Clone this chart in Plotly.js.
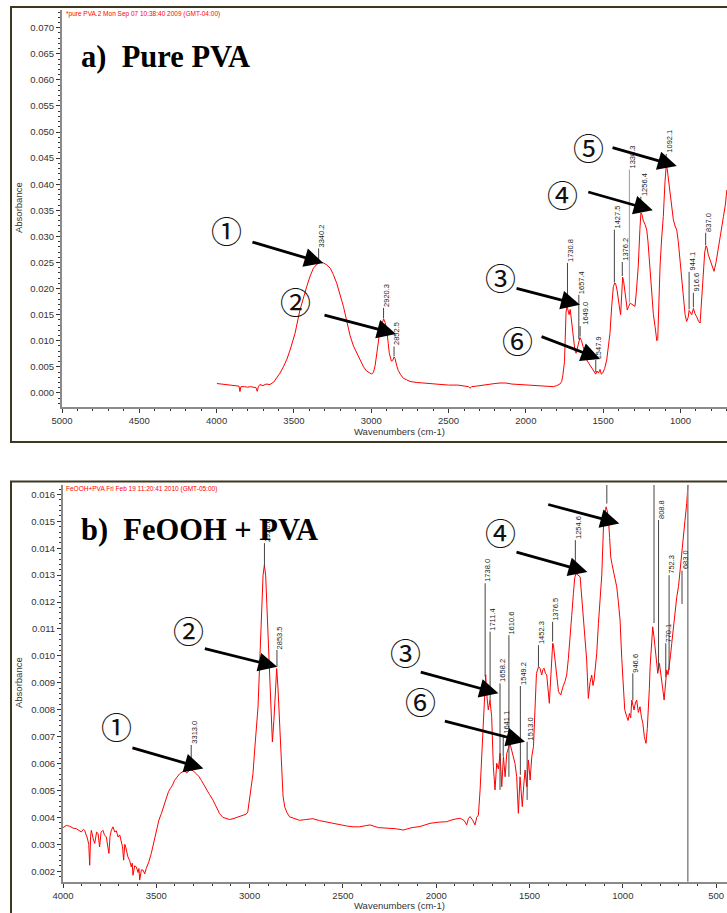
<!DOCTYPE html>
<html>
<head>
<meta charset="utf-8">
<script src="https://cdn.plot.ly/plotly-3.0.1.min.js"></script>
<style>html,body{margin:0;padding:0;background:#fff;}#chart{width:727px;height:913px;}</style>
</head>
<body>
<div id="chart"></div>
<script>
// ---------- Panel a) Pure PVA spectrum ----------
const specA_wn = [3998,3960,3920,3894,3870,3855,3849,3843,3820,3800,3780,3763,3745,3737,3730,3720,3700,3680,3655,3630,3611,3590,3568,3545,3525,3493,3461,3440,3417,3395,3374,3350,3330,3310,3290,3265,3245,3223,3200,3180,3160,3137,3115,3094,3073,3050,3030,3010,2997,2985,2975,2964,2950,2943,2930,2920,2910,2900,2890,2883,2870,2862,2852,2846,2835,2825,2810,2792,2770,2749,2706,2660,2620,2560,2500,2440,2390,2370,2361,2350,2320,2280,2240,2200,2167,2130,2090,2040,1994,1950,1900,1860,1822,1800,1780,1768,1760,1750,1745,1740,1733,1726,1720,1713,1705,1698,1690,1683,1675,1668,1658,1650,1640,1628,1615,1606,1590,1575,1563,1555,1548,1540,1530,1520,1512,1503,1490,1477,1466,1456,1445,1434,1425,1419,1410,1402,1395,1387,1380,1374,1368,1360,1352,1344,1335,1325,1315,1305,1294,1285,1273,1262,1256,1250,1240,1228,1218,1210,1200,1186,1175,1164,1153,1147,1140,1132,1122,1111,1100,1092,1086,1078,1068,1057,1046,1035,1024,1014,1003,992,981,970,960,950,944,938,927,916,906,895,884,873,862,852,843,835,828,820,809,796,783,770,755,740,722,710,700];
const specA_abs = [0.0018,0.0017,0.0016,0.0015,0.0014,0.0013,0.00025,0.0012,0.0012,0.0011,0.0012,0.0011,0.0010,0.0003,0.0012,0.0016,0.0014,0.0017,0.0016,0.0021,0.0028,0.0038,0.0050,0.0065,0.0082,0.0114,0.0159,0.0183,0.0204,0.0224,0.0239,0.0247,0.0250,0.0249,0.0246,0.0239,0.0227,0.0210,0.0188,0.0166,0.0140,0.0110,0.0090,0.0076,0.0062,0.0050,0.0042,0.0038,0.0036,0.0040,0.0052,0.0076,0.0105,0.0121,0.0132,0.0142,0.0135,0.0121,0.0095,0.0076,0.0061,0.0062,0.0069,0.0066,0.0052,0.0043,0.0035,0.0028,0.0025,0.0022,0.0020,0.0019,0.0017,0.0016,0.0015,0.0015,0.0013,0.0012,0.0009,0.0012,0.0013,0.0015,0.0017,0.0018,0.0019,0.0019,0.0017,0.0016,0.0015,0.0014,0.0013,0.0013,0.0012,0.0014,0.0017,0.0022,0.0035,0.0060,0.0100,0.0155,0.0166,0.0155,0.0150,0.0160,0.0140,0.0115,0.0095,0.0082,0.0076,0.0085,0.0100,0.0106,0.0100,0.0089,0.0073,0.0063,0.0055,0.0048,0.0044,0.0039,0.0036,0.0042,0.0038,0.0045,0.0036,0.0038,0.0047,0.0063,0.0085,0.0114,0.0165,0.0204,0.0211,0.0209,0.0197,0.0184,0.0165,0.0150,0.0180,0.0222,0.0215,0.0192,0.0176,0.0159,0.0166,0.0172,0.0170,0.0168,0.0166,0.0195,0.0243,0.0315,0.0345,0.0343,0.0330,0.0322,0.0312,0.0290,0.0245,0.0191,0.0150,0.0127,0.0100,0.0102,0.0170,0.0243,0.0295,0.0338,0.0405,0.0436,0.0430,0.0410,0.0396,0.0360,0.0332,0.0320,0.0312,0.0290,0.0255,0.0215,0.0178,0.0150,0.0137,0.0145,0.0158,0.0155,0.0150,0.0162,0.0152,0.0146,0.0138,0.0134,0.0185,0.0243,0.0270,0.0282,0.0278,0.0265,0.0255,0.0245,0.0233,0.0250,0.0281,0.0305,0.0338,0.0360,0.0389];

// peak labels panel a)
const labA_text = ['3340.2','2920.3','2852.5','1730.8','1657.4','1649.0','1547.9','1427.5','1376.2','1330.3','1256.4','1092.1','944.1','916.6','837.0'];
const labA_wn   = [3340.2,2920.3,2852.5,1730.8,1657.4,1649.0,1547.9,1427.5,1376.2,1330.3,1256.4,1092.1,944.1,916.6,837.0];
const labA_lo   = [0.0251,0.0143,0.0070,0.0168,0.0103,0.0108,0.0040,0.0212,0.0224,0.0173,0.0347,0.0438,0.0160,0.0164,0.0283];
const labA_hi   = [0.0277,0.0163,0.0089,0.0249,0.0188,0.0128,0.0063,0.0313,0.0251,0.0428,0.0376,0.0458,0.0232,0.0192,0.0307];

// circled numbers and arrows panel a)
const circA_text = ['①','②','③','⑥','④','⑤'];
const circA_wn   = [3933,3487,2167,2057,1766,1598];
const circA_abs  = [0.0313,0.0178,0.0223,0.0102,0.0382,0.0472];
const arrA_tailWn  = [3778,3312,2070,1908,1606,1449];
const arrA_tailAbs = [0.0290,0.0150,0.0201,0.0109,0.0386,0.0471];
const arrA_tipWn   = [3310,2840,1650,1520,1179,1024];
const arrA_tipAbs  = [0.0249,0.0113,0.0169,0.0065,0.0350,0.0435];

// ---------- Panel b) FeOOH + PVA spectrum ----------
const specB_wn = [4000,3982,3964,3946,3929,3915,3902,3890,3884,3876,3871,3862,3857,3852,3848,3838,3830,3820,3812,3804,3796,3786,3778,3768,3760,3754,3748,3741,3732,3723,3714,3705,3696,3688,3681,3675,3669,3664,3658,3652,3643,3634,3629,3625,3616,3607,3598,3593,3589,3580,3571,3562,3554,3540,3527,3514,3500,3486,3473,3460,3446,3435,3425,3413,3402,3390,3375,3362,3348,3338,3330,3320,3312,3300,3286,3272,3259,3245,3232,3215,3196,3180,3161,3143,3125,3107,3089,3071,3053,3035,3018,3010,3003,2992,2982,2973,2964,2955,2944,2935,2928,2921,2914,2908,2900,2890,2884,2878,2870,2862,2855,2848,2839,2830,2821,2812,2800,2786,2760,2732,2700,2661,2625,2589,2550,2518,2480,2446,2411,2380,2355,2310,2265,2220,2176,2130,2087,2033,1990,1944,1910,1872,1850,1837,1828,1819,1805,1792,1783,1774,1765,1756,1747,1739,1735,1730,1721,1712,1703,1694,1685,1676,1667,1658,1649,1640,1631,1622,1613,1605,1596,1587,1578,1569,1560,1551,1545,1539,1531,1524,1515,1506,1497,1488,1479,1470,1463,1452,1444,1435,1428,1422,1415,1408,1400,1394,1388,1382,1376,1372,1365,1358,1350,1345,1333,1326,1319,1310,1301,1292,1283,1274,1265,1258,1251,1240,1229,1220,1211,1202,1194,1185,1176,1167,1160,1154,1147,1140,1131,1122,1113,1104,1097,1090,1084,1078,1071,1065,1058,1051,1042,1033,1024,1015,1006,997,990,979,972,965,958,952,946,940,933,926,917,908,900,893,885,876,869,863,858,854,847,840,833,827,822,813,804,797,791,785,779,772,765,758,751,745,738,729,720,711,702,694,685,676,667,658,650];
const specB_abs = [0.00362,0.00370,0.00367,0.00360,0.00358,0.00350,0.00346,0.00356,0.00352,0.00335,0.00327,0.00300,0.00222,0.00330,0.00352,0.00320,0.00303,0.00345,0.00340,0.00290,0.00345,0.00352,0.00335,0.00327,0.00300,0.00266,0.00330,0.00352,0.00365,0.00346,0.00350,0.00327,0.00335,0.00315,0.00290,0.00241,0.00300,0.00290,0.00270,0.00253,0.00240,0.00216,0.00230,0.00185,0.00220,0.00216,0.00195,0.00210,0.00167,0.00205,0.00204,0.00190,0.00210,0.00235,0.00266,0.00305,0.00352,0.00390,0.00414,0.00445,0.00476,0.00495,0.00507,0.00520,0.00538,0.00550,0.00562,0.00568,0.00575,0.00565,0.00569,0.00580,0.00577,0.00572,0.00562,0.00552,0.00538,0.00520,0.00501,0.00485,0.00464,0.00440,0.00414,0.00400,0.00395,0.00392,0.00395,0.00400,0.00404,0.00408,0.00412,0.00420,0.00451,0.00500,0.00562,0.00650,0.00748,0.00810,0.01010,0.01195,0.01300,0.01337,0.01300,0.01195,0.01046,0.00850,0.00720,0.00680,0.00760,0.00900,0.00953,0.00880,0.00748,0.00562,0.00480,0.00439,0.00418,0.00402,0.00395,0.00389,0.00392,0.00395,0.00388,0.00383,0.00378,0.00371,0.00368,0.00365,0.00365,0.00369,0.00372,0.00362,0.00360,0.00358,0.00353,0.00362,0.00366,0.00378,0.00382,0.00384,0.00392,0.00397,0.00388,0.00372,0.00395,0.00403,0.00390,0.00372,0.00400,0.00409,0.00502,0.00620,0.00750,0.00848,0.00930,0.00861,0.00799,0.00836,0.00774,0.00588,0.00502,0.00601,0.00580,0.00638,0.00514,0.00626,0.00551,0.00638,0.00663,0.00675,0.00650,0.00626,0.00600,0.00551,0.00415,0.00551,0.00500,0.00440,0.00520,0.00576,0.00514,0.00613,0.00539,0.00626,0.00663,0.00799,0.00935,0.00960,0.00954,0.00929,0.00950,0.00954,0.00935,0.00929,0.00870,0.00824,0.00900,0.00960,0.01047,0.01040,0.01000,0.00960,0.00900,0.00867,0.00855,0.00875,0.00890,0.00905,0.00929,0.00990,0.01059,0.01150,0.01232,0.01290,0.01306,0.01300,0.01294,0.01215,0.01133,0.01060,0.00985,0.00842,0.00900,0.00929,0.00890,0.00911,0.00950,0.01010,0.01120,0.01232,0.01300,0.01479,0.01520,0.01554,0.01540,0.01517,0.01440,0.01368,0.01340,0.01319,0.01290,0.01257,0.01200,0.01133,0.00990,0.00900,0.00800,0.00774,0.00760,0.00786,0.00770,0.00836,0.00820,0.00799,0.00825,0.00836,0.00790,0.00811,0.00770,0.00750,0.00700,0.00675,0.00730,0.00799,0.00880,0.00960,0.01060,0.01108,0.01070,0.01020,0.00985,0.00935,0.00972,0.00940,0.00910,0.00870,0.00836,0.00900,0.00948,0.00930,0.00960,0.01000,0.01047,0.01110,0.01170,0.01220,0.01257,0.01320,0.01381,0.01450,0.01504,0.01566,0.01645];

// peak labels panel b)
const labB_text = ['3313.0','2920.6','2853.5','1738.0','1711.4','1658.2','1641.1','1610.6','1549.2','1513.0','1452.3','1376.5','1254.6','946.6','808.8','770.1','752.3','683.0'];
const labB_wn   = [3313.0,2920.6,2853.5,1738.0,1711.4,1658.2,1641.1,1610.6,1549.2,1513.0,1452.3,1376.5,1254.6,946.6,808.8,770.1,752.3,683.0];
const labB_lo   = [0.00574,0.01331,0.00960,0.00923,0.00836,0.00502,0.00628,0.00551,0.00558,0.00465,0.00960,0.01053,0.01350,0.00836,0.00947,0.00922,0.00947,0.01193];
const labB_hi   = [0.00669,0.01419,0.01022,0.01270,0.01090,0.00898,0.00706,0.01077,0.00888,0.00681,0.01040,0.01127,0.01430,0.00935,0.01505,0.01047,0.01300,0.01317];
// marker lines whose labels fall outside the frame
const extraB_wn = [1086, 833, 652];
const extraB_lo = [0.01566, 0.01122, 0.0016];

const circB_text = ['①','②','③','⑥','④'];
const circB_wn   = [3712,3329,2167,2087,1658];
const circB_abs  = [0.00743,0.01099,0.01015,0.00836,0.01461];
const arrB_tailWn  = [3636,3248,2091,1962,1578,1408];
const arrB_tailAbs = [0.00660,0.01028,0.00941,0.00759,0.01387,0.01564];
const arrB_tipWn   = [3248,2852,1667,1524,1190,1019];
const arrB_tipAbs  = [0.00582,0.00960,0.00861,0.00681,0.01312,0.01492];

// ---------- figure ----------
const W = 727, H = 913;
const px = v => v / W;
const py = v => 1 - v / H;

const traces = [
  {x: specA_wn, y: specA_abs, xaxis: 'x', yaxis: 'y', type: 'scatter', mode: 'lines',
   line: {color: 'rgb(255,0,0)', width: 1}, hoverinfo: 'skip'},
  {x: specB_wn, y: specB_abs, xaxis: 'x2', yaxis: 'y2', type: 'scatter', mode: 'lines',
   line: {color: 'rgb(255,0,0)', width: 1}, hoverinfo: 'skip'}
];

const tickFont = {family: 'Liberation Sans, Arial, sans-serif', size: 9.5, color: '#333'};
function xAx(range, anchor, dom) {
  return {domain: dom, range: range, anchor: anchor, dtick: 500, tick0: 0,
    ticks: 'outside', ticklen: 4, tickwidth: 1, tickcolor: '#333',
    minor: {dtick: 100, ticks: 'outside', ticklen: 2, tickcolor: '#333'},
    showline: true, linecolor: '#8a8a8a', linewidth: 2, showgrid: false, zeroline: false,
    tickfont: tickFont};
}
function yAx(range, anchor, dom, dt, mdt) {
  return {domain: dom, range: range, anchor: anchor, dtick: dt, tick0: 0, tickformat: '.3f',
    ticks: 'outside', ticklen: 4, tickwidth: 1, tickcolor: '#333',
    minor: {dtick: mdt, ticks: 'outside', ticklen: 2, tickcolor: '#333'},
    showline: true, linecolor: '#8a8a8a', linewidth: 2, showgrid: false, zeroline: false,
    tickfont: tickFont};
}

const shapes = [];
const annotations = [];

// frames
shapes.push({type: 'rect', xref: 'paper', yref: 'paper', x0: px(11), x1: 1.05, y0: py(442), y1: py(7),
  line: {color: '#3d3820', width: 2}, layer: 'below'});
shapes.push({type: 'rect', xref: 'paper', yref: 'paper', x0: px(11), x1: 1.05, y0: -0.05, y1: py(481.5),
  line: {color: '#3d3820', width: 2}, layer: 'below'});

const labFont = {family: 'Liberation Sans, Arial, sans-serif', size: 7.5, color: '#222'};
function addLabels(xr, yr, txt, wn, lo, hi) {
  for (let i = 0; i < wn.length; i++) {
    shapes.push({type: 'line', xref: xr, yref: yr, x0: wn[i], x1: wn[i], y0: lo[i], y1: hi[i],
      line: {color: txt[i] === '1330.3' ? '#9a9a9a' : '#444', width: 1}});
    const nudge = (txt[i] === '1649.0') ? 6 : 3;
    annotations.push({xref: xr, yref: yr, x: wn[i], y: hi[i], text: txt[i], textangle: -90,
      showarrow: false, xanchor: 'center', yanchor: 'bottom', xshift: nudge, yshift: 0,
      font: labFont, borderpad: 0});
  }
}
addLabels('x', 'y', labA_text, labA_wn, labA_lo, labA_hi);
addLabels('x2', 'y2', labB_text, labB_wn, labB_lo, labB_hi);
for (let i = 0; i < extraB_wn.length; i++) {
  shapes.push({type: 'line', xref: 'x2', yref: 'y2', x0: extraB_wn[i], x1: extraB_wn[i],
    y0: extraB_lo[i], y1: 0.0175, line: {color: i === 2 ? '#888' : '#444', width: i === 2 ? 1.5 : 1}});
}

const circFont = {family: 'Noto Sans CJK JP, DejaVu Serif, serif', size: 31, color: '#111'};
function addArrows(xr, yr, ct, cw, ca, tw, ta, hw, ha) {
  for (let i = 0; i < ct.length; i++) {
    annotations.push({xref: xr, yref: yr, x: cw[i], y: ca[i], text: ct[i], showarrow: false,
      xanchor: 'center', yanchor: 'middle', font: circFont});
  }
  for (let i = 0; i < tw.length; i++) {
    annotations.push({xref: xr, yref: yr, axref: xr, ayref: yr, x: hw[i], y: ha[i],
      ax: tw[i], ay: ta[i], text: '', showarrow: true, arrowhead: 2, arrowsize: 1.35,
      arrowwidth: 2.8, arrowcolor: '#000', standoff: 0});
  }
}
addArrows('x', 'y', circA_text, circA_wn, circA_abs, arrA_tailWn, arrA_tailAbs, arrA_tipWn, arrA_tipAbs);
addArrows('x2', 'y2', circB_text, circB_wn, circB_abs, arrB_tailWn, arrB_tailAbs, arrB_tipWn, arrB_tipAbs);

// panel titles
const titleFont = {family: 'Liberation Serif, Times New Roman, serif', size: 30.5, color: '#000', weight: 'bold'};
annotations.push({xref: 'paper', yref: 'paper', x: px(79), y: py(57), xanchor: 'left', yanchor: 'middle',
  text: '<b>a)\u00a0\u00a0Pure PVA</b>', showarrow: false, font: titleFont});
annotations.push({xref: 'paper', yref: 'paper', x: px(79), y: py(530), xanchor: 'left', yanchor: 'middle',
  text: '<b>b)\u00a0\u00a0FeOOH + PVA</b>', showarrow: false, font: titleFont});

// header stamps
const stampFont = {family: 'Liberation Sans, Arial, sans-serif', size: 6.5, color: '#ff0000'};
annotations.push({xref: 'paper', yref: 'paper', x: px(64), y: py(14), xanchor: 'left', yanchor: 'middle',
  text: '*pure PVA.2 Mon Sep 07 10:38:40 2009 (GMT-04:00)', showarrow: false, font: stampFont});
annotations.push({xref: 'paper', yref: 'paper', x: px(64), y: py(489), xanchor: 'left', yanchor: 'middle',
  text: 'FeOOH+PVA Fri Feb 19 11:20:41 2010 (GMT-05:00)', showarrow: false, font: stampFont});

// axis titles
const axFont = {family: 'Liberation Sans, Arial, sans-serif', size: 9.5, color: '#333'};
annotations.push({xref: 'paper', yref: 'paper', x: px(18), y: py(208), text: 'Absorbance', textangle: -90,
  showarrow: false, xanchor: 'center', yanchor: 'middle', font: axFont});
annotations.push({xref: 'paper', yref: 'paper', x: px(18), y: py(683), text: 'Absorbance', textangle: -90,
  showarrow: false, xanchor: 'center', yanchor: 'middle', font: axFont});
annotations.push({xref: 'paper', yref: 'paper', x: px(399), y: py(432), text: 'Wavenumbers (cm-1)',
  showarrow: false, xanchor: 'center', yanchor: 'middle', font: axFont});
annotations.push({xref: 'paper', yref: 'paper', x: px(399), y: py(905), text: 'Wavenumbers (cm-1)',
  showarrow: false, xanchor: 'center', yanchor: 'middle', font: axFont});

const layout = {
  width: W, height: H,
  margin: {l: 0, r: 0, t: 0, b: 0, pad: 0},
  paper_bgcolor: '#fff', plot_bgcolor: '#fff',
  showlegend: false,
  xaxis: xAx([5000, 699], 'y', [px(62), 1]),
  yaxis: yAx([-0.0027, 0.0734], 'x', [py(407), py(10)], 0.005, 0.001),
  xaxis2: xAx([4000, 442], 'y2', [px(63), 1]),
  yaxis2: yAx([0.00161, 0.01635], 'x2', [py(881.7), py(485)], 0.001, 0.0002),
  shapes: shapes,
  annotations: annotations
};

Plotly.newPlot('chart', traces, layout, {staticPlot: true, displayModeBar: false});
</script>
</body>
</html>
